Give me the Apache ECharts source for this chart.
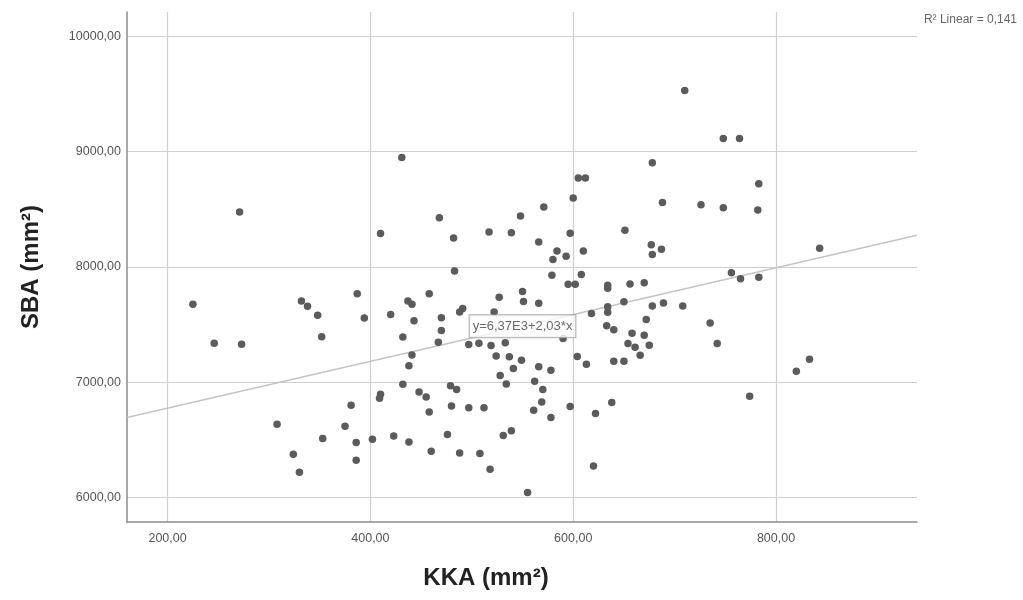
<!DOCTYPE html>
<html>
<head>
<meta charset="utf-8">
<script src="https://cdn.jsdelivr.net/npm/echarts@6/dist/echarts.min.js"></script>
<style>html,body{margin:0;padding:0;background:#fff}#c{width:1023px;height:600px}</style>
</head>
<body>
<div id="c"></div>
<script>
// KKA (mm²) values
const kka = [431,271,410,710,678,605,612,600,688,726,571,468,548,482,517,539,566,597,651,677,687,678,584,610,593,580,748,764,783,748,782,843,
225,246,273,332,338,348,352,308,375,381,353,324,330,
483,387,458,437,441,394,420,443,470,470,467,432,491,488,527,550,551,522,497,507,519,533,524,537,541,549,528,534,441,438,432,410,409,448,455,458,479,485,480,497,512,386,386,402,423,438,460,476,488,508,518,531,539,
579,608,595,602,566,590,618,634,634,634,634,633,640,650,656,670,678,689,708,672,658,670,654,661,666,675,640,650,604,613,566,578,562,570,569,561,578,597,622,638,620,555,
756,765,783,735,742,833,820,774];
// SBA (mm²) values
const sba = [8950,8477,8290,9532,8905,8772,8772,8598,8559,8541,8520,8428,8442,8252,8304,8298,8217,8292,8318,8193,8154,8108,8139,8139,8093,8064,9114,9114,8723,8515,8494,8162,
7676,7338,7330,7705,7659,7581,7396,6636,6618,6801,6512,6376,6219,
7965,7769,7769,7705,7676,7558,7588,7533,7559,7449,7347,7393,7639,7610,7737,7787,7700,7610,7328,7338,7318,7343,7228,7221,7120,7191,7058,6984,7236,7143,6983,6896,6861,6916,6872,6742,6970,6938,6794,6779,6779,6477,6323,6506,6534,6482,6402,6546,6387,6382,6245,6538,6579,
7928,7935,7850,7850,7685,7379,7596,7841,7815,7655,7607,7490,7455,7698,7853,7863,7662,7688,7662,7545,7425,7408,7337,7304,7234,7321,7182,7182,7223,7156,7134,7104,7009,6937,6829,6757,6694,6789,6729,6824,6274,6043,
7951,7899,7911,7514,7336,7199,7095,6879];
const xTicks = [200, 400, 600, 800];
const yTicks = [6000, 7000, 8000, 9000, 10000];
const intercept = 6370;
const slope = 2.03;
const xRange = [160, 939];
const yRange = [5788, 10212];
const eqLabelX = 550;
const eqText = 'y=6,37E3+2,03*x';
const r2Text = 'R² Linear = 0,141';

const points = kka.map((v, i) => [v, sba[i]]);
const fit = xRange.map(x => [x, intercept + slope * x]);
const fmt = v => v.toFixed(2).replace('.', ',');
const FONT = 'Liberation Sans, Arial, sans-serif';

const chart = echarts.init(document.getElementById('c'), null, {renderer: 'canvas'});
chart.setOption({
  animation: false,
  backgroundColor: '#fff',
  grid: {left: 127, right: 106, top: 12, bottom: 78},
  xAxis: {
    type: 'value', min: xRange[0], max: xRange[1],
    axisLine: {show: true, onZero: false, lineStyle: {color: '#8c8c8c', width: 1.5}},
    axisTick: {show: false, customValues: xTicks},
    axisLabel: {customValues: xTicks, formatter: fmt, color: '#555', fontSize: 12.5, fontFamily: FONT, margin: 10},
    splitLine: {show: true, lineStyle: {color: '#cfcfcf', width: 1.2}}
  },
  yAxis: {
    type: 'value', min: yRange[0], max: yRange[1],
    name: 'SBA (mm²)', nameLocation: 'middle', nameGap: 84, nameRotate: 90,
    nameTextStyle: {fontSize: 24, fontWeight: 'bold', color: '#222', fontFamily: FONT},
    axisLine: {show: true, onZero: false, lineStyle: {color: '#8c8c8c', width: 1.5}},
    axisTick: {show: false, customValues: yTicks},
    axisLabel: {customValues: yTicks, formatter: fmt, color: '#555', fontSize: 12.5, fontFamily: FONT, margin: 6},
    splitLine: {show: true, lineStyle: {color: '#cfcfcf', width: 1.2}}
  },
  graphic: [
    {type: 'text', x: 1017, y: 14, style: {text: r2Text, fill: '#666', font: '12px ' + FONT, textAlign: 'right'}},
    {type: 'text', x: 486, y: 566, style: {text: 'KKA (mm²)', fill: '#222', font: 'bold 24px ' + FONT, textAlign: 'center'}}
  ],
  series: [
    {
      type: 'line', data: fit, symbol: 'none', silent: true, z: 1,
      lineStyle: {color: '#c4c4c4', width: 1.6}
    },
    {
      type: 'scatter', data: points, symbolSize: 7.5, z: 2,
      itemStyle: {color: '#5b5b5b', opacity: 1}
    },
    {
      type: 'scatter', data: [[eqLabelX, intercept + slope * eqLabelX]], symbolSize: 0, z: 5,
      label: {
        show: true, position: 'inside', formatter: eqText,
        color: '#444', fontSize: 13, fontFamily: FONT,
        backgroundColor: '#fff', borderColor: '#999', borderWidth: 1, padding: [5, 3, 4, 3]
      }
    }
  ]
});
</script>
</body>
</html>
